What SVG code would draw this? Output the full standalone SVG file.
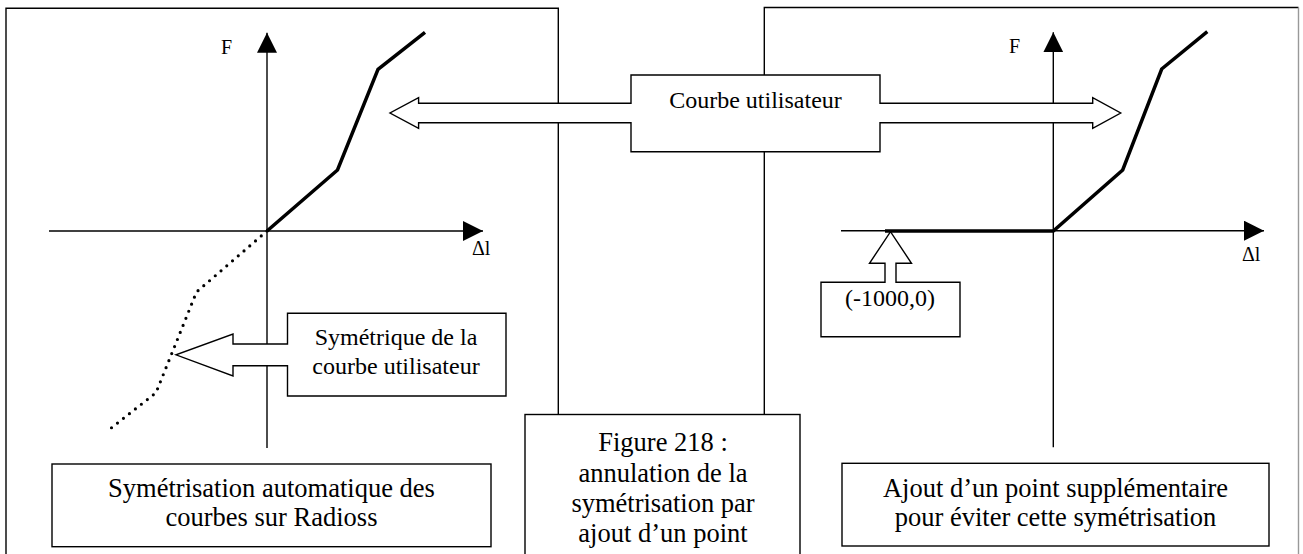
<svg xmlns="http://www.w3.org/2000/svg" width="1303" height="554" viewBox="0 0 1303 554">
<style>
  .frame { fill: #fff; stroke: #000; stroke-width: 1.4; }
  .open { fill: none; stroke: #000; stroke-width: 1.4; }
  .axis { fill: none; stroke: #000; stroke-width: 1.4; }
  .curve { fill: none; stroke: #000; stroke-width: 3.5; stroke-linejoin: miter; }
  .dots { fill: none; stroke: #000; stroke-width: 3.2; stroke-linecap: round; stroke-dasharray: 0 7.6; }
  text { font-family: "Liberation Serif", "Times New Roman", serif; fill: #000; }
  .big { font-size: 26.5px; text-anchor: middle; }
  .mid { font-size: 24px; text-anchor: middle; }
  .lbl { font-size: 20px; }
</style>
<defs>
  <marker id="ah" markerUnits="userSpaceOnUse" markerWidth="20" markerHeight="20" refX="20" refY="10" orient="auto" viewBox="0 0 20 20">
    <path d="M0,0 L20,10 L0,20 Z" fill="#000"/>
  </marker>
</defs>
<rect width="1303" height="554" fill="#fff"/>

<g id="panel-left">
  <path class="open" d="M6,560 V8.3 H558.3 V414.5"/>
</g>
<g id="panel-right">
  <path class="open" d="M764.3,414.5 V7.5 H1298.5"/>
  <line x1="1298.5" y1="7.5" x2="1298.5" y2="560" stroke="#999" stroke-width="1.4"/>
</g>

<g id="graph-left">
  <line class="axis" x1="267" y1="448" x2="267" y2="32.7" marker-end="url(#ah)"/>
  <line class="axis" x1="49" y1="231" x2="483" y2="231" marker-end="url(#ah)"/>
  <text class="lbl" x="221" y="54">F</text>
  <text class="lbl" x="472" y="255">Δl</text>
  <polyline class="curve" points="267,231 337.5,170 378,69.3 425,32.3"/>
  <polyline class="dots" points="267,231 196.5,292 156,392.7 109,429.7"/>
</g>

<g id="graph-right">
  <line class="axis" x1="1053.3" y1="447.3" x2="1053.3" y2="32.3" marker-end="url(#ah)"/>
  <line class="axis" x1="841" y1="230.7" x2="1264" y2="230.7" marker-end="url(#ah)"/>
  <text class="lbl" x="1009" y="53.3">F</text>
  <text class="lbl" x="1242" y="261">Δl</text>
  <polyline class="curve" points="885,231 1053.3,231 1122.7,170 1161.7,69 1207.3,31.7"/>
</g>

<g id="figure-caption">
  <rect class="frame" x="525" y="414.5" width="275" height="200"/>
  <text class="big" x="663" y="450.5">Figure 218 :</text>
  <text class="big" x="663" y="481.5">annulation de la</text>
  <text class="big" x="663" y="511.5">symétrisation par</text>
  <text class="big" x="663" y="541.5">ajout d’un point</text>
</g>

<g id="callout-courbe">
  <path class="frame" d="M631,75 H880 V103.3 H1092.7 V97.7 L1120.7,113 L1092.7,128.3 V122.7 H880 V151.7 H631 V122.7 H418.6 V128.3 L390,113 L418.6,97.7 V103.3 H631 Z"/>
  <text class="mid" x="755.5" y="108.3">Courbe utilisateur</text>
</g>

<g id="callout-symetrique">
  <path class="frame" d="M287.5,313.3 H506 V396 H287.5 V365.7 H233 V376 L176,354.8 L233,334 V344 H287.5 Z"/>
  <text class="mid" x="396" y="345">Symétrique de la</text>
  <text class="mid" x="396" y="374">courbe utilisateur</text>
</g>

<g id="callout-point">
  <path class="frame" d="M821,282.3 H885 V263.3 H869.5 L890.5,231.7 L911.5,263.3 H896 V282.3 H960 V336.7 H821 Z"/>
  <text class="mid" x="890" y="306">(-1000,0)</text>
</g>

<g id="caption-left">
  <rect class="frame" x="52" y="464" width="439" height="82.7"/>
  <text class="big" x="271.5" y="497">Symétrisation automatique des</text>
  <text class="big" x="271.5" y="526">courbes sur Radioss</text>
</g>

<g id="caption-right">
  <rect class="frame" x="842" y="463.3" width="427" height="82.7"/>
  <text class="big" x="1055.5" y="497">Ajout d’un point supplémentaire</text>
  <text class="big" x="1055.5" y="526">pour éviter cette symétrisation</text>
</g>
</svg>
